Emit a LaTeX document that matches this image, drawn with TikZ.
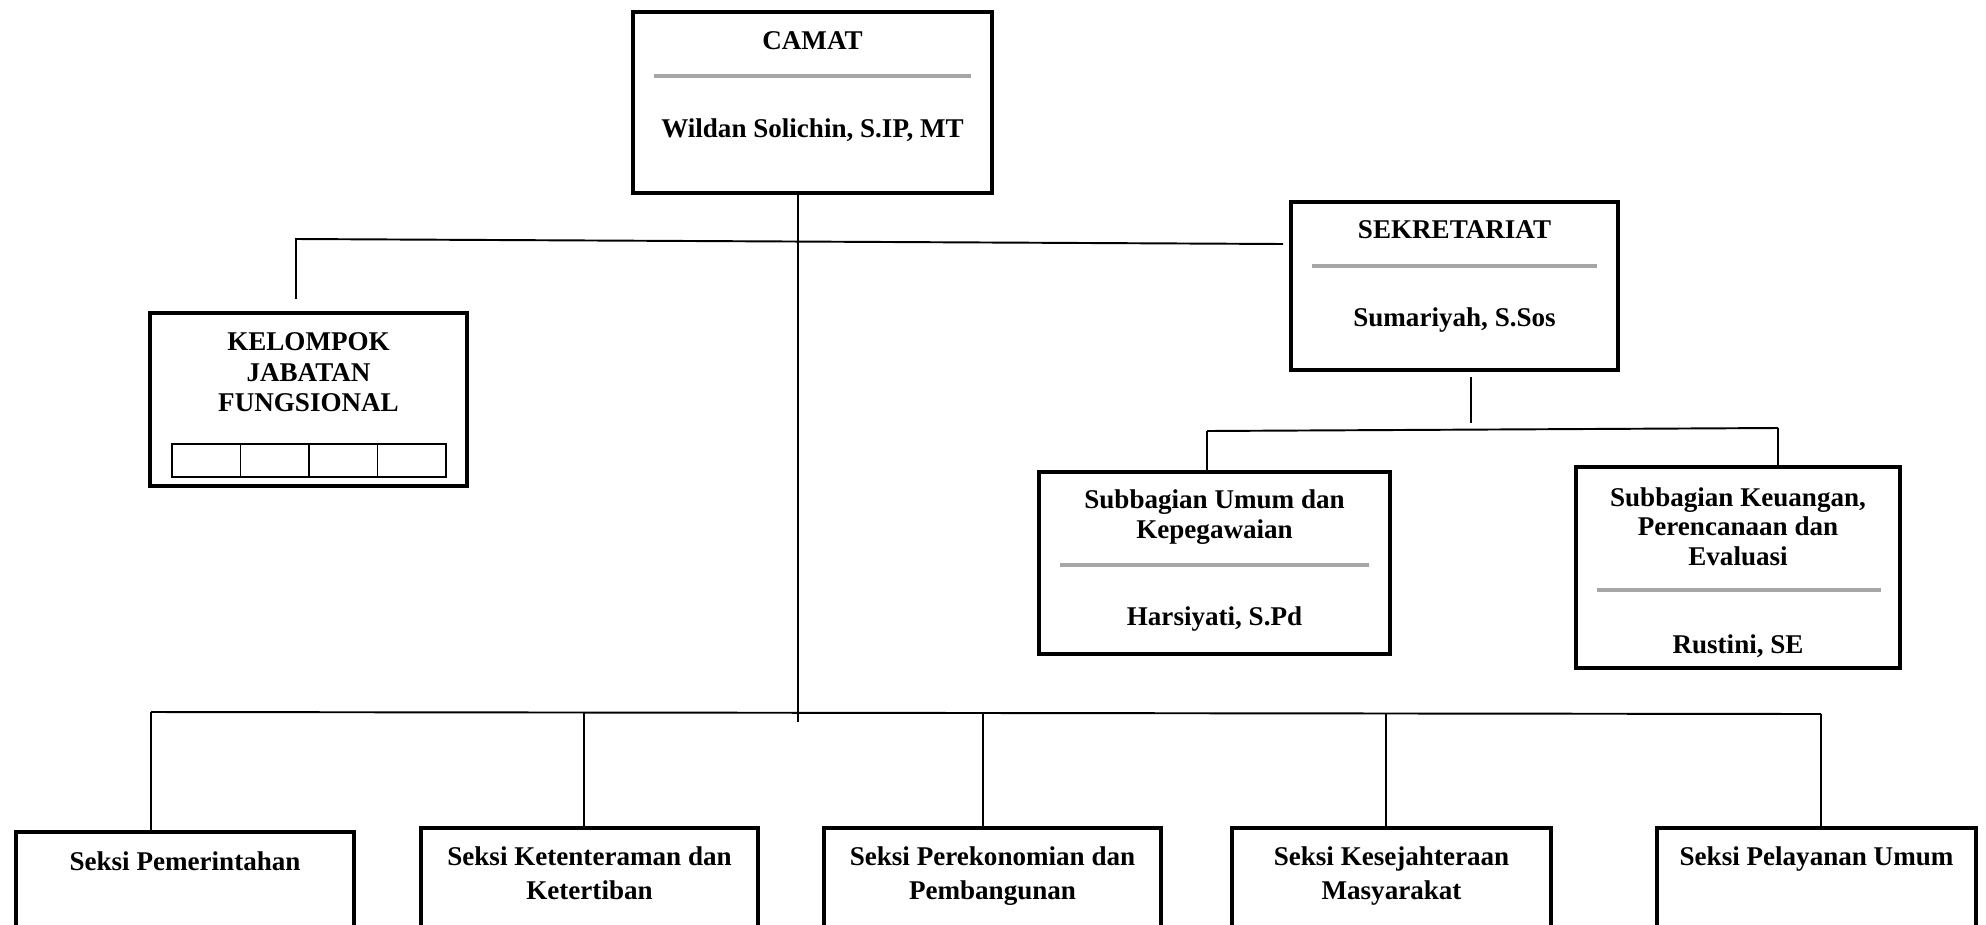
\documentclass[tikz,border=0pt]{standalone}
\usepackage{fontspec}
\setmainfont{Liberation Serif}
\usepackage{xcolor}
\usepackage{tikz}
\usetikzlibrary{positioning}
\definecolor{rulegray}{RGB}{166,166,166}
\tikzset{
    base/.style={font=\bfseries\fontsize{7.7}{8.7}\selectfont, align=center, inner sep=0pt},
    block/.style={draw=black, line width=1.2pt, rectangle, inner sep=0pt},
    title/.style={base},
    tighttitle/.style={base, font=\bfseries\fontsize{7.7}{8.4}\selectfont},
    widetitle/.style={base, font=\bfseries\fontsize{7.7}{9.7}\selectfont},
    line/.style={draw=black, line width=0.55pt},
    rule/.style={draw=rulegray, line width=1.1pt},
    cell/.style={draw=black, line width=0.5pt}
}
\begin{document}
\begin{tikzpicture}[x=0.01cm, y=-0.01cm]
    \useasboundingbox (0,0) rectangle (1986,924);
    \clip (0,0) rectangle (1986,924);

    % boxes
    \node [block, minimum width=3.59cm, minimum height=1.81cm] (Camat) at (812.5,102.5) {};
    \node [block, minimum width=3.27cm, minimum height=1.68cm] (Sekretariat) at (1454.5,286) {};
    \node [block, minimum width=3.17cm, minimum height=1.73cm] (KJF) at (308.5,399.5) {};
    \node [block, minimum width=3.51cm, minimum height=1.82cm] (Sub_Umum) at (1214.5,563) {};
    \node [block, minimum width=3.24cm, minimum height=2.01cm] (Sub_Keu) at (1738,567.5) {};
    \node [block, minimum width=3.38cm, minimum height=2cm] (Seksi_Pem) at (185,932) {};
    \node [block, minimum width=3.37cm, minimum height=2cm] (Seksi_Ket) at (589.5,928) {};
    \node [block, minimum width=3.37cm, minimum height=2cm] (Seksi_Pere) at (992.5,928) {};
    \node [block, minimum width=3.19cm, minimum height=2cm] (Seksi_Kes) at (1391.5,928) {};
    \node [block, minimum width=3.19cm, minimum height=2cm] (Seksi_Pel) at (1816.5,928) {};

    % texts
    \node [title, below=0.21cm of Camat.north] (Camat_T) {CAMAT};
    \node [title, below=1.08cm of Camat.north] (Camat_N) {Wildan Solichin, S.IP, MT};
    \node [title, below=0.20cm of Sekretariat.north] (Sek_T) {SEKRETARIAT};
    \node [title, below=1.07cm of Sekretariat.north] (Sek_N) {Sumariyah, S.Sos};
    \node [title, below=0.21cm of KJF.north] (KJF_T) {KELOMPOK\\JABATAN\\FUNGSIONAL};
    \node [title, below=0.19cm of Sub_Umum.north] (Sub_Umum_T) {Subbagian Umum dan\\Kepegawaian};
    \node [title, below=1.36cm of Sub_Umum.north] (Sub_Umum_N) {Harsiyati, S.Pd};
    \node [tighttitle, below=0.22cm of Sub_Keu.north] (Sub_Keu_T) {Subbagian Keuangan,\\Perencanaan dan\\Evaluasi};
    \node [title, below=1.69cm of Sub_Keu.north] (Sub_Keu_N) {Rustini, SE};
    \node [widetitle, below=0.21cm of Seksi_Pem.north] (Seksi_Pem_T) {Seksi Pemerintahan};
    \node [widetitle, below=0.20cm of Seksi_Ket.north] (Seksi_Ket_T) {Seksi Ketenteraman dan\\Ketertiban};
    \node [widetitle, below=0.20cm of Seksi_Pere.north] (Seksi_Pere_T) {Seksi Perekonomian dan\\Pembangunan};
    \node [widetitle, below=0.20cm of Seksi_Kes.north] (Seksi_Kes_T) {Seksi Kesejahteraan\\Masyarakat};
    \node [widetitle, below=0.20cm of Seksi_Pel.north] (Seksi_Pel_T) {Seksi Pelayanan Umum};

    % gray separators
    \draw [rule] (654,76) -- (971,76);
    \draw [rule] (1312,266) -- (1597,266);
    \draw [rule] (1060,565) -- (1369,565);
    \draw [rule] (1597,590) -- (1881,590);

    % small table in KJF
    \foreach \i in {0,...,3}
        \draw [cell] (172+\i*68.5,444) rectangle +(68.5,33);

    % junctions
    \coordinate (Kjf_J) at (296,239);
    \coordinate (Sek_J) at (1283,244);
    \coordinate (Camat_J) at (798,722);
    \coordinate (SekD_J) at (1471,423);
    \coordinate (SubL_J) at (1207,431);
    \coordinate (SubR_J) at (1778,428);
    \coordinate (Bus_L) at (151,712);
    \coordinate (Bus_2) at (584,713);
    \coordinate (Bus_3) at (983,713);
    \coordinate (Bus_4) at (1386,713);
    \coordinate (Bus_R) at (1821,714);

    % connectors
    \draw [line] (Camat.south -| Camat_J) -- (Camat_J);
    \draw [line] (KJF.north -| Kjf_J) ++(0,-12) -- (Kjf_J) -- (Sek_J);
    \draw [line] (Sekretariat.south -| SekD_J) ++(0,5) -- (SekD_J);
    \draw [line] (SubL_J) -- (SubR_J);
    \draw [line] (SubL_J) -- (Sub_Umum.north -| SubL_J);
    \draw [line] (SubR_J) -- (Sub_Keu.north -| SubR_J);
    \draw [line] (Bus_L) -- (Bus_R);
    \foreach \n/\b in {Pem/Bus_L, Ket/Bus_2, Pere/Bus_3, Kes/Bus_4, Pel/Bus_R}
        \draw [line] (\b) -- (Seksi_\n.north -| \b);
\end{tikzpicture}
\end{document}
